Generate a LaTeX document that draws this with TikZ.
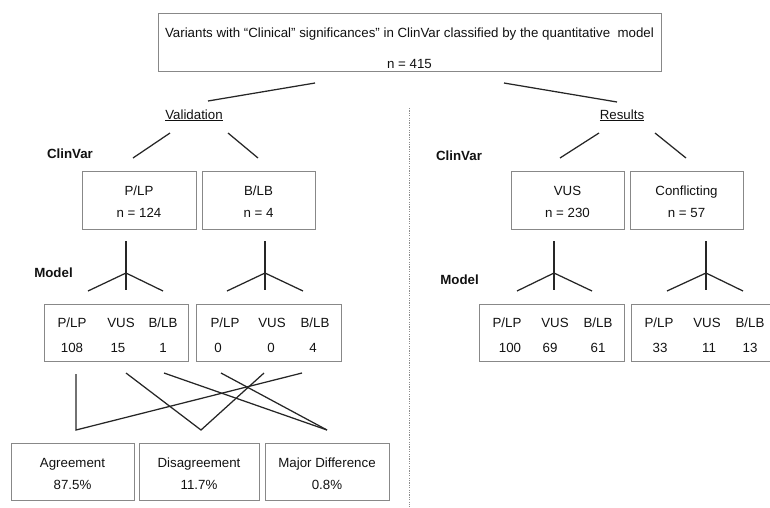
\documentclass[tikz,border=0pt]{standalone}
\usepackage{fontspec}
\setmainfont{Liberation Sans}
\definecolor{boxgray}{HTML}{888888}
\definecolor{linegray}{HTML}{262626}
\definecolor{textgray}{HTML}{111111}
\definecolor{dashgray}{HTML}{8C8C8C}

\begin{document}
\begin{tikzpicture}[x=1pt, y=-1pt,
    box/.style={draw=boxgray, line width=1pt, inner sep=0pt},
    txt/.style={text=textgray, inner sep=0pt, anchor=base, font=\fontsize{13.3}{16}\selectfont},
    hdr/.style={txt, font=\fontsize{13.3}{16}\selectfont\bfseries},
    link/.style={draw=linegray, line width=1.25pt},
    divider/.style={draw=dashgray, line width=1pt, dash pattern=on 1.2pt off 1.2pt}]

    \useasboundingbox (0,0) rectangle (770,507);


    \node[box, minimum width=503pt, minimum height=58pt] (top) at (409.5,42) {};

    \node[box, minimum width=114pt, minimum height=58pt] (plp) at (139,200) {};
    \node[box, minimum width=113pt, minimum height=58pt] (blb) at (258.5,200) {};
    \node[box, minimum width=113pt, minimum height=58pt] (vus) at (567.5,200) {};
    \node[box, minimum width=113pt, minimum height=58pt] (conf) at (686.5,200) {};

    \node[box, minimum width=144pt, minimum height=57pt] (mplp) at (116,332.5) {};
    \node[box, minimum width=145pt, minimum height=57pt] (mblb) at (268.5,332.5) {};
    \node[box, minimum width=145pt, minimum height=57pt] (mvus) at (551.5,332.5) {};
    \node[box, minimum width=145pt, minimum height=57pt] (mconf) at (703.5,332.5) {};

    \node[box, minimum width=123pt, minimum height=57pt] (agr) at (72.5,471.5) {};
    \node[box, minimum width=120pt, minimum height=57pt] (dis) at (199,471.5) {};
    \node[box, minimum width=124pt, minimum height=57pt] (maj) at (327,471.5) {};


    \node[txt] (title) at (409.5,37) {Variants with “Clinical” significances” in ClinVar classified by the quantitative\ \ model};
    \node[txt] (total) at (409.5,68) {n = 415};

    \node[txt] (valid) at (194,119) {\underline{Validation}};
    \node[txt] (result) at (622,119) {\underline{Results}};

    \node[hdr] (clinl) at (70,158) {ClinVar};
    \node[hdr] (clinr) at (459,160) {ClinVar};
    \node[hdr] (modl) at (53.5,277) {Model};
    \node[hdr] (modr) at (459.5,284) {Model};

    \node[txt] (plpname) at (139,195) {P/LP};
    \node[txt] (plpn) at (139,217) {n = 124};
    \node[txt] (blbname) at (258.5,195) {B/LB};
    \node[txt] (blbn) at (258.5,217) {n = 4};
    \node[txt] (vusname) at (567.5,195) {VUS};
    \node[txt] (vusn) at (567.5,217) {n = 230};
    \node[txt] (confname) at (686.5,195) {Conflicting};
    \node[txt] (confn) at (686.5,217) {n = 57};

    \node[txt] (h1) at (72,327) {P/LP};
    \node[txt] (h2) at (121,327) {VUS};
    \node[txt] (h3) at (163,327) {B/LB};
    \node[txt] (h4) at (225,327) {P/LP};
    \node[txt] (h5) at (272,327) {VUS};
    \node[txt] (h6) at (315,327) {B/LB};
    \node[txt] (h7) at (507,327) {P/LP};
    \node[txt] (h8) at (555,327) {VUS};
    \node[txt] (h9) at (598,327) {B/LB};
    \node[txt] (h10) at (659,327) {P/LP};
    \node[txt] (h11) at (707,327) {VUS};
    \node[txt] (h12) at (750,327) {B/LB};

    \node[txt] (v1) at (72,352) {108};
    \node[txt] (v2) at (118,352) {15};
    \node[txt] (v3) at (163,352) {1};
    \node[txt] (v4) at (218,352) {0};
    \node[txt] (v5) at (271,352) {0};
    \node[txt] (v6) at (313,352) {4};
    \node[txt] (v7) at (510,352) {100};
    \node[txt] (v8) at (550,352) {69};
    \node[txt] (v9) at (598,352) {61};
    \node[txt] (v10) at (660,352) {33};
    \node[txt] (v11) at (709,352) {11};
    \node[txt] (v12) at (750,352) {13};

    \node[txt] (agrname) at (72.5,467) {Agreement};
    \node[txt] (agrp) at (72.5,489) {87.5\%};
    \node[txt] (disname) at (199,467) {Disagreement};
    \node[txt] (disp) at (199,489) {11.7\%};
    \node[txt] (majname) at (327,467) {Major Difference};
    \node[txt] (majp) at (327,489) {0.8\%};


    \coordinate (s1) at (315,83);
    \coordinate (s2) at (208,101);
    \coordinate (s3) at (504,83);
    \coordinate (s4) at (617,102);

    \coordinate (c1) at (170,133);
    \coordinate (c2) at (133,158);
    \coordinate (c3) at (228,133);
    \coordinate (c4) at (258,158);
    \coordinate (c5) at (599,133);
    \coordinate (c6) at (560,158);
    \coordinate (c7) at (655,133);
    \coordinate (c8) at (686,158);

    \coordinate (t1) at (126,241);
    \coordinate (m1) at (126,273);
    \coordinate (b1) at (126,290);
    \coordinate (l1) at (88,291);
    \coordinate (r1) at (163,291);

    \coordinate (t2) at (265,241);
    \coordinate (m2) at (265,273);
    \coordinate (b2) at (265,290);
    \coordinate (l2) at (227,291);
    \coordinate (r2) at (303,291);

    \coordinate (t3) at (554,241);
    \coordinate (m3) at (554,273);
    \coordinate (b3) at (554,290);
    \coordinate (l3) at (517,291);
    \coordinate (r3) at (592,291);

    \coordinate (t4) at (706,241);
    \coordinate (m4) at (706,273);
    \coordinate (b4) at (706,290);
    \coordinate (l4) at (667,291);
    \coordinate (r4) at (743,291);

    \coordinate (a1) at (76,374);
    \coordinate (a2) at (76,430);
    \coordinate (a3) at (302,373);
    \coordinate (d1) at (126,373);
    \coordinate (d2) at (201,430);
    \coordinate (d3) at (264,373);
    \coordinate (j1) at (164,373);
    \coordinate (j2) at (221,373);
    \coordinate (j3) at (327,430);

    \coordinate (septop) at (409,108);
    \coordinate (sepbot) at (409,507);


      \draw[divider] (septop) to (sepbot);

      \draw[link] (s1) to (s2);
      \draw[link] (s3) to (s4);

      \draw[link] (c1) to (c2);
      \draw[link] (c3) to (c4);
      \draw[link] (c5) to (c6);
      \draw[link] (c7) to (c8);

      \draw[link] (t1) to (b1);
      \draw[link] (l1) -- (m1) -- (r1);
      \draw[link] (t2) to (b2);
      \draw[link] (l2) -- (m2) -- (r2);
      \draw[link] (t3) to (b3);
      \draw[link] (l3) -- (m3) -- (r3);
      \draw[link] (t4) to (b4);
      \draw[link] (l4) -- (m4) -- (r4);

      \draw[link] (a1) -- (a2) -- (a3);
      \draw[link] (d1) -- (d2) -- (d3);
      \draw[link] (j1) to (j3);
      \draw[link] (j2) to (j3);
  \end{tikzpicture}
\end{document}
